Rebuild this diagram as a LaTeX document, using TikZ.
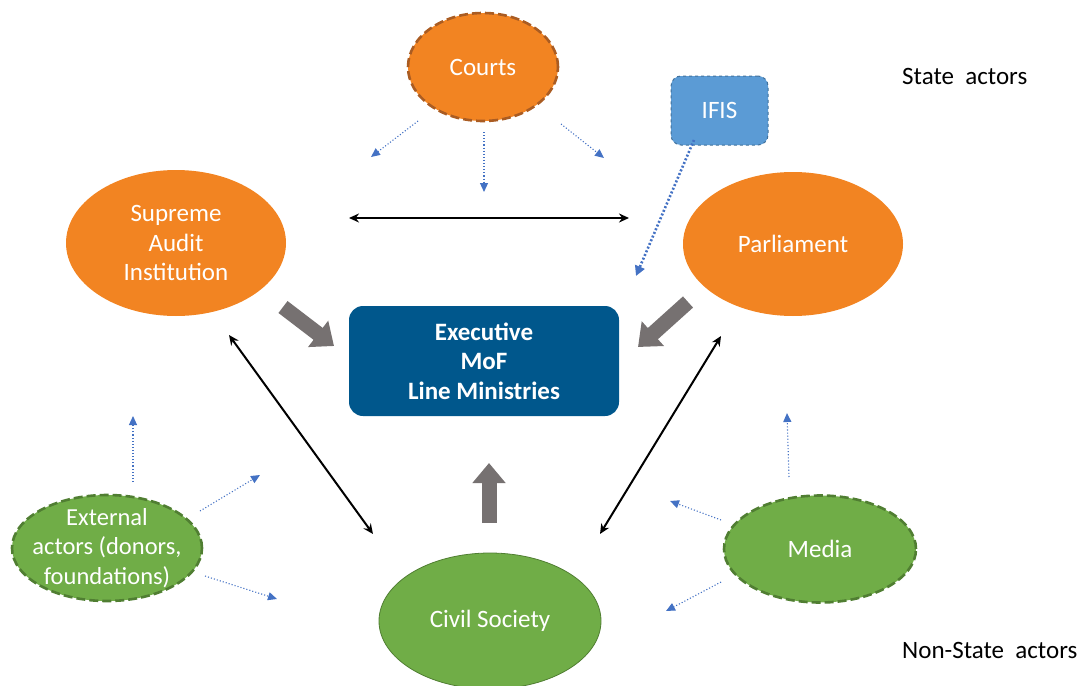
\documentclass[tikz,border=0pt]{standalone}
\usepackage{fontspec}
\setmainfont{Carlito}
\usetikzlibrary{shapes.geometric,arrows.meta}
\definecolor{org}{RGB}{242,132,34}
\definecolor{orgdark}{RGB}{170,92,34}
\definecolor{grn}{RGB}{112,173,71}
\definecolor{grndark}{RGB}{80,126,50}
\definecolor{ifisblue}{RGB}{91,155,213}
\definecolor{ifisdark}{RGB}{65,113,156}
\definecolor{execblue}{RGB}{0,87,140}
\definecolor{grayarr}{RGB}{118,113,113}
\definecolor{dotblue}{RGB}{68,114,196}
\begin{document}
\begin{tikzpicture}[x=1pt,y=-1pt,
  txt/.style={font=\fontsize{25}{29.5}\selectfont, align=center},
  oval/.style={ellipse, inner xsep=-25pt, inner ysep=-12pt, txt, text=white},
  statenode/.style={oval, fill=org},
  nonstate/.style={oval, fill=grn},
  dashedge/.style={line width=2.6pt, dash pattern=on 9pt off 4pt},
  infl/.style={dotblue, dotted, line width=1.1pt, -{Triangle[length=9pt,width=8pt]}},
  ifisarr/.style={dotblue, line width=2.6pt, dash pattern=on 2pt off 2pt, -{Triangle[length=10pt,width=10pt]}},
  duo/.style={black, line width=2pt, {Stealth[length=10pt,width=9pt]}-{Stealth[length=10pt,width=9pt]}},
  blockarr/.style={grayarr, line width=15pt, -{Triangle[length=20pt,width=32pt]}}
]
\useasboundingbox (0,0) rectangle (1089,685);

% nodes
\node[statenode, minimum width=150pt, minimum height=108pt, draw=orgdark, dashedge] (courts) at (483,67) {Courts};
\node[statenode, minimum width=220pt, minimum height=146pt] (sai) at (176,243) {Supreme\\Audit\\Institution};
\node[statenode, minimum width=220pt, minimum height=144pt] (parl) at (793,244) {Parliament};
\node[rectangle, rounded corners=10pt, fill=ifisblue, draw=ifisdark, dashed, line width=1pt, minimum width=97pt, minimum height=69pt, txt, text=white] (ifis) at (719.5,110.5) {IFIS};
\node[rectangle, rounded corners=14pt, fill=execblue, minimum width=270pt, minimum height=110pt, txt, text=white, font=\fontsize{25}{29.5}\selectfont\bfseries] (exec) at (484,361) {Executive\\MoF\\Line Ministries};
\node[nonstate, minimum width=190pt, minimum height=106pt, draw=grndark, dashedge, font=\fontsize{24.5}{29.5}\selectfont] (ext) at (107,548) {External\\actors (donors,\\foundations)};
\node[nonstate, minimum width=192pt, minimum height=107pt, draw=grndark, dashedge] (media) at (820,549) {Media};
\node[nonstate, minimum width=222pt, minimum height=136pt, draw=grndark, line width=0.8pt] (civil) at (490,621) {Civil Society};
\node[txt, anchor=west, inner sep=0pt] (state) at (902,76) {State\ \ actors};
\node[txt, anchor=west, inner sep=0pt] (nonstatelbl) at (902,650) {Non-State\ \ actors};

% coordinates for free ends
\coordinate (c1s) at (418,121); \coordinate (c1e) at (371,157);
\coordinate (c2s) at (484,132); \coordinate (c2e) at (484,192);
\coordinate (c3s) at (561,124); \coordinate (c3e) at (604,158);
\coordinate (is) at (694,140); \coordinate (ie) at (636,276);
\coordinate (hl) at (349,218); \coordinate (hr) at (629,218);
\coordinate (sa) at (283,307); \coordinate (sb) at (334,346);
\coordinate (pa) at (688,302); \coordinate (pb) at (638,347);
\coordinate (ca) at (489,523); \coordinate (cb) at (489,463);
\coordinate (la) at (229,335); \coordinate (lb) at (373,534);
\coordinate (ra) at (721,336); \coordinate (rb) at (600,534);
\coordinate (e1s) at (133,482); \coordinate (e1e) at (133,416);
\coordinate (e2s) at (200,511); \coordinate (e2e) at (260,475);
\coordinate (e3s) at (205,576); \coordinate (e3e) at (277,599);
\coordinate (m1s) at (789,477); \coordinate (m1e) at (787,413);
\coordinate (m2s) at (721,520); \coordinate (m2e) at (670,501);
\coordinate (m3s) at (721,582); \coordinate (m3e) at (666,611);

% connectors
\draw[infl] (c1s) -- (c1e);
\draw[infl] (c2s) -- (c2e);
\draw[infl] (c3s) -- (c3e);
\draw[ifisarr] (is) -- (ie);
\draw[duo] (hl) -- (hr);
\draw[blockarr] (sa) -- (sb);
\draw[blockarr] (pa) -- (pb);
\draw[blockarr] (ca) -- (cb);
\draw[duo] (la) -- (lb);
\draw[duo] (ra) -- (rb);
\draw[infl] (e1s) -- (e1e);
\draw[infl] (e2s) -- (e2e);
\draw[infl] (e3s) -- (e3e);
\draw[infl] (m1s) -- (m1e);
\draw[infl] (m2s) -- (m2e);
\draw[infl] (m3s) -- (m3e);
\end{tikzpicture}
\end{document}
